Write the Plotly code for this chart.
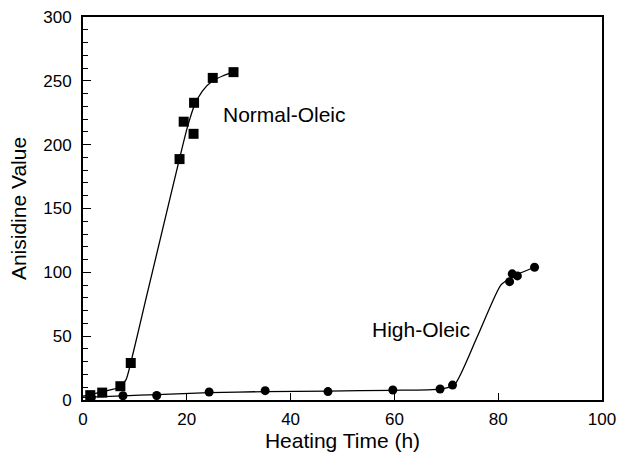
import plotly.graph_objects as go

# Measured data points
normal_x = [1.4, 3.7, 7.2, 9.2, 18.6, 19.4, 21.4, 21.3, 25.0, 29.0]
normal_y = [3.8, 5.8, 10.8, 29.0, 188.7, 218.0, 232.8, 208.5, 252.3, 256.8]

high_x = [1.6, 7.7, 14.2, 24.3, 35.1, 47.2, 59.7, 68.8, 71.2, 82.2, 82.7, 83.7, 87.0]
high_y = [2.2, 3.3, 3.5, 6.3, 7.3, 6.6, 7.8, 8.6, 11.7, 92.7, 98.8, 97.2, 104.0]

# Fitted curves
normal_fit_x = [0, 1.4, 3.7, 7.0, 8.3, 9.2, 12, 15, 18.6, 20.0, 21.5, 23.0, 25.0, 27.0, 29.0]
normal_fit_y = [3, 4.0, 6.5, 10.0, 16, 29.0, 77, 128, 189, 212, 231, 242, 250, 254, 257]

high_fit_x = [0, 7.7, 14.2, 24.3, 35.1, 47.2, 59.7, 68.8, 71.5, 76.0, 80.5, 82.5, 84.0, 87.0]
high_fit_y = [2.0, 3.3, 4.2, 5.7, 6.6, 7.0, 7.6, 8.6, 11.5, 50, 90, 96, 99, 104]

x_ticks = [0, 20, 40, 60, 80, 100]
y_ticks = [0, 50, 100, 150, 200, 250, 300]

font = "Liberation Sans, Arial, Helvetica, sans-serif"

fig = go.Figure()
fig.add_trace(go.Scatter(x=normal_fit_x, y=normal_fit_y, mode="lines",
                         line=dict(color="black", width=1.3, shape="spline", smoothing=0.6),
                         showlegend=False, hoverinfo="skip"))
fig.add_trace(go.Scatter(x=high_fit_x, y=high_fit_y, mode="lines",
                         line=dict(color="black", width=1.3, shape="spline", smoothing=0.6),
                         showlegend=False, hoverinfo="skip"))
fig.add_trace(go.Scatter(x=normal_x, y=normal_y, mode="markers", name="Normal-Oleic",
                         marker=dict(symbol="square", size=10, color="black"), showlegend=False))
fig.add_trace(go.Scatter(x=high_x, y=high_y, mode="markers", name="High-Oleic",
                         marker=dict(symbol="circle", size=9, color="black"), showlegend=False))

fig.add_annotation(x=38.8, y=223.6, text="Normal-Oleic", showarrow=False,
                   font=dict(family=font, size=21, color="black"))
fig.add_annotation(x=65.1, y=54.9, text="High-Oleic", showarrow=False,
                   font=dict(family=font, size=21, color="black"))

fig.update_layout(
    width=622, height=453,
    margin=dict(l=83, r=20, t=17, b=53),
    paper_bgcolor="white", plot_bgcolor="white",
    font=dict(family=font, size=17, color="black"),
    xaxis=dict(range=[0, 100], tickvals=x_ticks, ticks="inside", ticklen=7, tickwidth=1.3,
               tickcolor="black", showline=True, linecolor="black", linewidth=2,
               mirror=True, showgrid=False, zeroline=False, ticklabelstandoff=3,
               automargin=False,
               title=dict(text="Heating Time (h)", standoff=0, font=dict(size=21))),
    yaxis=dict(range=[0, 300], tickvals=y_ticks, ticks="inside", ticklen=8, tickwidth=1.3,
               tickcolor="black", showline=True, linecolor="black", linewidth=2,
               mirror=True, showgrid=False, zeroline=False, ticklabelstandoff=6,
               automargin=False,
               minor=dict(dtick=10, ticks="inside", ticklen=5, tickcolor="black", tickwidth=1),
               title=dict(text="Anisidine Value", standoff=11, font=dict(size=21))),
)

fig.write_html("out.html")
